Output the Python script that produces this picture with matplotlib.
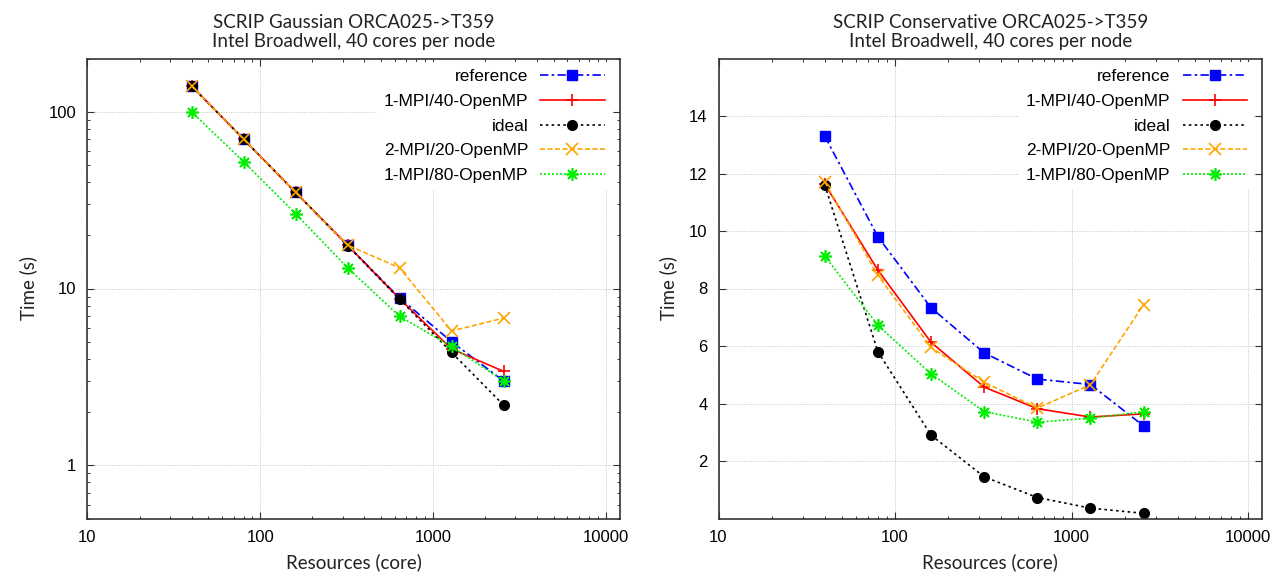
import matplotlib
matplotlib.use("Agg")
import matplotlib.pyplot as plt
from matplotlib.ticker import LogLocator, FixedLocator, NullFormatter, FuncFormatter

cores = [40, 80, 160, 320, 640, 1280, 2560]

series_labels = ["reference", "1-MPI/40-OpenMP", "ideal", "2-MPI/20-OpenMP", "1-MPI/80-OpenMP"]

gauss_reference = [140, 70, 35, 17.6, 8.85, 5.0, 3.0]
gauss_mpi1_omp40 = [140, 70, 35, 17.6, 8.75, 4.55, 3.4]
gauss_ideal = [140, 70, 35, 17.5, 8.7, 4.35, 2.19]
gauss_mpi2_omp20 = [140, 70, 35, 17.6, 13.1, 5.75, 6.8]
gauss_mpi1_omp80 = [100, 52.2, 26.5, 13.1, 6.96, 4.7, 3.0]

cons_reference = [13.3, 9.8, 7.33, 5.76, 4.85, 4.66, 3.22]
cons_mpi1_omp40 = [11.63, 8.64, 6.13, 4.57, 3.82, 3.53, 3.64]
cons_ideal = [11.6, 5.8, 2.9, 1.45, 0.73, 0.36, 0.18]
cons_mpi2_omp20 = [11.71, 8.46, 5.95, 4.74, 3.84, 4.65, 7.44]
cons_mpi1_omp80 = [9.13, 6.72, 5.03, 3.72, 3.35, 3.49, 3.71]

titles = ["SCRIP Gaussian ORCA025->T359\nIntel Broadwell, 40 cores per node",
          "SCRIP Conservative ORCA025->T359\nIntel Broadwell, 40 cores per node"]

styles = [
    dict(color="#0000ff", linestyle=(0, (5, 2, 1.5, 2)), marker="s", markersize=7, markeredgewidth=1.0),
    dict(color="#ff0000", linestyle="-", marker="+", markersize=9, markeredgewidth=1.2),
    dict(color="#000000", linestyle=(0, (1.5, 2)), marker="o", markersize=7, markeredgewidth=1.0),
    dict(color="#ffa500", linestyle=(0, (3, 1.5)), marker="x", markersize=8, markeredgewidth=1.2),
    dict(color="#00ee00", linestyle=(0, (1.2, 1.2)), marker=(8, 2, 0), markersize=9, markeredgewidth=1.2),
]

W, H = 1283, 574
fig = plt.figure(figsize=(W / 100, H / 100), dpi=100)
fig.patch.set_facecolor("white")

label_font = ["Lato", "DejaVu Sans"]
tick_font = "Liberation Sans"

def make_axes(px_left, px_right, px_top, px_bottom):
    return fig.add_axes([px_left / W, 1 - px_bottom / H, (px_right - px_left) / W, (px_bottom - px_top) / H])

ax1 = make_axes(87.5, 619.5, 58.5, 518.5)
ax2 = make_axes(718.5, 1262.0, 58.5, 518.5)

datasets = [
    [gauss_reference, gauss_mpi1_omp40, gauss_ideal, gauss_mpi2_omp20, gauss_mpi1_omp80],
    [cons_reference, cons_mpi1_omp40, cons_ideal, cons_mpi2_omp20, cons_mpi1_omp80],
]

for ax, data, title in zip([ax1, ax2], datasets, titles):
    for lbl, ys, st in zip(series_labels, data, styles):
        ax.plot(cores, ys, label=lbl, linewidth=1.2, **st)
    ax.set_xscale("log")
    ax.set_xlim(10, 12000)
    ax.xaxis.set_major_locator(FixedLocator([10, 100, 1000, 10000]))
    ax.xaxis.set_minor_locator(LogLocator(base=10, subs=range(2, 10)))
    ax.xaxis.set_minor_formatter(NullFormatter())
    ax.xaxis.set_major_formatter(FuncFormatter(lambda v, p: "%d" % v))
    ax.grid(True, which="major", color="#c4c4c4", linestyle=(0, (1, 1.5)), linewidth=0.7)
    ax.tick_params(which="both", direction="in", top=True, right=True, colors="#333333",
                   labelcolor="black")
    ax.tick_params(which="major", length=5, width=0.8, labelsize=12, pad=8)
    ax.tick_params(which="minor", length=2.5, width=0.7)
    for sp in ax.spines.values():
        sp.set_color("#333333")
        sp.set_linewidth(1.2)
    ax.set_title(title, fontsize=13.5, family=label_font, pad=8, linespacing=1.15, color="#222222")
    ax.set_xlabel("Resources (core)", fontsize=13.5, family=label_font, labelpad=6, color="#222222")
    ax.set_ylabel("Time (s)", fontsize=13.5, family=label_font, labelpad=8, color="#222222")
    leg = ax.legend(loc="upper right", bbox_to_anchor=(0.985, 0.992), markerfirst=False,
                    frameon=True, fancybox=False, framealpha=1.0, facecolor="white",
                    edgecolor="none", prop={"family": tick_font, "size": 12.5},
                    handlelength=3.7, handletextpad=0.7, labelspacing=0.55, borderpad=0.4,
                    borderaxespad=0.0)
    leg.set_zorder(1.5)

ax1.set_yscale("log")
ax1.set_ylim(0.5, 200)
ax1.yaxis.set_major_locator(FixedLocator([1, 10, 100]))
ax1.yaxis.set_minor_locator(LogLocator(base=10, subs=range(2, 10)))
ax1.yaxis.set_minor_formatter(NullFormatter())
ax1.yaxis.set_major_formatter(FuncFormatter(lambda v, p: "%d" % v))

ax2.set_ylim(0, 16)
ax2.yaxis.set_major_locator(FixedLocator([2, 4, 6, 8, 10, 12, 14]))

for ax in (ax1, ax2):
    for lab in ax.get_xticklabels() + ax.get_yticklabels():
        lab.set_fontfamily(tick_font)

fig.savefig("out.png", dpi=100, facecolor="white")
